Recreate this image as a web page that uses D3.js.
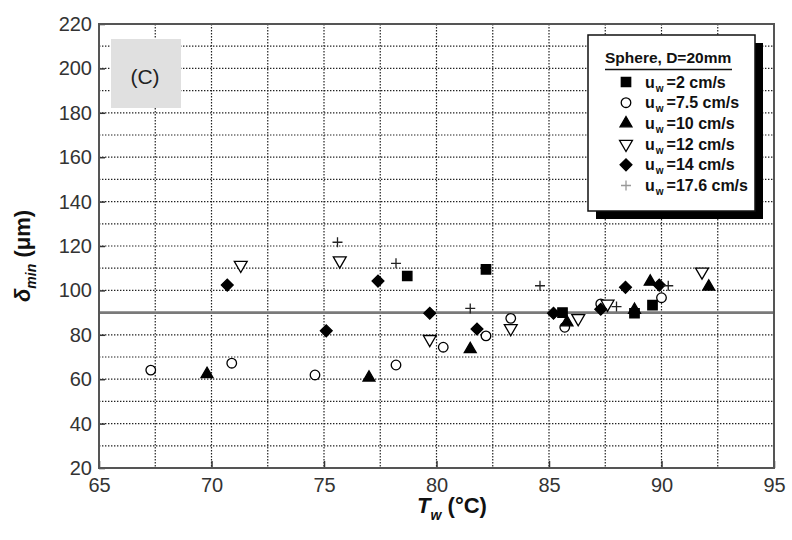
<!DOCTYPE html>
<html>
<head>
<meta charset="utf-8">
<script src="https://cdn.jsdelivr.net/npm/d3@7"></script>
<style>
  body { margin: 0; background: #fff; }
  text { font-family: "Liberation Sans", Arial, sans-serif; }
</style>
</head>
<body>
<script>
// series values: [T_w, delta_min]
const u2 = [[78.7, 106.5], [82.2, 109.5], [85.6, 90], [88.8, 89.7], [89.6, 93.4]];
const u7_5 = [[67.3, 64.1], [70.9, 67.2], [74.6, 61.9], [78.2, 66.4], [80.3, 74.4],
  [82.2, 79.5], [83.3, 87.4], [85.7, 83.4], [87.3, 93.9], [90.0, 96.7]];
const u10 = [[69.8, 62.3], [77.0, 60.7], [81.5, 73.5], [85.8, 85.6], [88.8, 91.2],
  [89.5, 103.9], [92.1, 101.7]];
const u12 = [[71.3, 111.4], [75.7, 113.4], [79.7, 78], [83.3, 82.9], [86.3, 87.4],
  [87.6, 93.9], [91.8, 108.4]];
const u14 = [[70.7, 102.4], [75.1, 81.8], [77.4, 104.2], [79.7, 89.7], [81.8, 82.6],
  [85.2, 89.7], [87.3, 91.5], [88.4, 101.4], [89.9, 102.4]];
const u17_6 = [[75.6, 121.7], [78.2, 112.2], [81.5, 91.9], [84.6, 102.1], [88.0, 92.7],
  [90.3, 102.1]];

const seriesNames = ["=2 cm/s", "=7.5 cm/s", "=10 cm/s", "=12 cm/s", "=14 cm/s", "=17.6 cm/s"];
const xTicks = [65, 70, 75, 80, 85, 90, 95];
const yTicks = [20, 40, 60, 80, 100, 120, 140, 160, 180, 200, 220];
const refLine = 90;

const width = 792, height = 540;
const margin = { top: 24, right: 18, bottom: 72, left: 99 };

const svg = d3.select("body").append("svg").attr("width", width).attr("height", height);

const x = d3.scaleLinear().domain([65, 95]).range([margin.left, width - margin.right]);
const y = d3.scaleLinear().domain([20, 220]).range([height - margin.bottom, margin.top]);

// grid, dotted
const gridX = d3.range(65, 95.01, 2.5);
const gridY = d3.range(20, 220.01, 10);
svg.append("g").selectAll("line").data(gridX.slice(1, -1)).enter().append("line")
  .attr("x1", d => x(d)).attr("x2", d => x(d))
  .attr("y1", y(220)).attr("y2", y(20))
  .attr("stroke", "#222").attr("stroke-width", 1.2).attr("stroke-dasharray", "1.4,1.6");
svg.append("g").selectAll("line").data(gridY.slice(1, -1)).enter().append("line")
  .attr("x1", x(65)).attr("x2", x(95))
  .attr("y1", d => y(d)).attr("y2", d => y(d))
  .attr("stroke", "#222").attr("stroke-width", 1.2).attr("stroke-dasharray", "1.4,1.6");

// (C) panel label
svg.append("rect").attr("x", 111).attr("y", 39).attr("width", 70).attr("height", 69)
  .attr("fill", "#e0e0e0");
svg.append("text").attr("x", 145).attr("y", 84).attr("text-anchor", "middle")
  .attr("font-size", 21).attr("fill", "#222").text("(C)");

// reference line
svg.append("line").attr("x1", x(65)).attr("x2", x(95))
  .attr("y1", y(refLine)).attr("y2", y(refLine))
  .attr("stroke", "#7a7a7a").attr("stroke-width", 2.6);

// axes with inward ticks
const axB = svg.append("g").attr("transform", "translate(0," + y(20) + ")")
  .call(d3.axisBottom(x).tickValues(xTicks).tickSize(-7).tickPadding(12).tickFormat(d3.format("d")));
const axL = svg.append("g").attr("transform", "translate(" + x(65) + ",0)")
  .call(d3.axisLeft(y).tickValues(yTicks).tickSize(-6).tickPadding(7).tickFormat(d3.format("d")));
[axB, axL].forEach(a => {
  a.select(".domain").remove();
  a.selectAll(".tick line").attr("stroke", "#333").attr("stroke-width", 1.5);
  a.selectAll(".tick text").attr("font-size", 20).attr("fill", "#333")
    .attr("font-family", "Liberation Sans, Arial, sans-serif");
});
axB.selectAll(".tick text").attr("dy", "0.6em");

// frame
svg.append("rect").attr("x", x(65)).attr("y", y(220))
  .attr("width", x(95) - x(65)).attr("height", y(20) - y(220))
  .attr("fill", "none").attr("stroke", "#555").attr("stroke-width", 2);

// marker shapes
const plus = { draw(ctx, size) { const r = Math.sqrt(size) / 2; ctx.moveTo(-r, 0); ctx.lineTo(r, 0); ctx.moveTo(0, -r); ctx.lineTo(0, r); } };
const styles = [
  { data: u2, type: d3.symbolSquare, size: 88, fill: "#000", stroke: "#000", rot: 0 },
  { data: u7_5, type: d3.symbolCircle, size: 72, fill: "#fff", stroke: "#000", rot: 0 },
  { data: u10, type: d3.symbolTriangle, size: 62, fill: "#000", stroke: "#000", rot: 0 },
  { data: u12, type: d3.symbolTriangle, size: 72, fill: "#fff", stroke: "#000", rot: 180 },
  { data: u14, type: d3.symbolSquare, size: 70, fill: "#000", stroke: "#000", rot: 45 },
  { data: u17_6, type: plus, size: 100, fill: "none", stroke: "#222", rot: 0 }
];

styles.forEach(s => {
  svg.append("g").selectAll("path").data(s.data).enter().append("path")
    .attr("d", d3.symbol().type(s.type).size(s.size))
    .attr("transform", d => "translate(" + x(d[0]) + "," + y(d[1]) + ") rotate(" + s.rot + ")")
    .attr("fill", s.fill).attr("stroke", s.stroke).attr("stroke-width", 1.3);
});

// legend
const lg = svg.append("g");
lg.append("rect").attr("x", 596).attr("y", 43).attr("width", 167).attr("height", 176).attr("fill", "#000");
lg.append("rect").attr("x", 588).attr("y", 35).attr("width", 167).attr("height", 176)
  .attr("fill", "#fff").attr("stroke", "#111").attr("stroke-width", 1.5);
lg.append("text").attr("x", 605).attr("y", 63).attr("font-size", 15.5).attr("font-weight", "bold")
  .attr("fill", "#111").text("Sphere, D=20mm");
lg.append("line").attr("x1", 605).attr("x2", 732).attr("y1", 69.5).attr("y2", 69.5)
  .attr("stroke", "#111").attr("stroke-width", 1.5);

const legendRows = lg.selectAll(".row").data(styles).enter().append("g")
  .attr("class", "row")
  .attr("transform", (d, i) => "translate(0," + (82 + i * 20.7) + ")");
legendRows.append("path")
  .attr("d", d => d3.symbol().type(d.type).size(d.size)())
  .attr("transform", d => "translate(626,0) rotate(" + d.rot + ")")
  .attr("fill", d => d.fill)
  .attr("stroke", (d, i) => i === 5 ? "#999" : d.stroke).attr("stroke-width", 1.3);
const lt = legendRows.append("text").attr("x", 645).attr("y", 5.5)
  .attr("font-size", 16).attr("font-weight", "bold").attr("fill", "#111");
lt.append("tspan").text("u");
lt.append("tspan").attr("font-size", 10).attr("dy", 4).attr("dx", 1).text("w");
lt.append("tspan").attr("dy", -4).attr("dx", 3).text((d, i) => seriesNames[i]);

// axis titles
const xt = svg.append("text").attr("x", 452).attr("y", 513).attr("text-anchor", "middle")
  .attr("font-size", 22).attr("font-weight", "bold").attr("fill", "#111");
xt.append("tspan").attr("font-style", "italic").text("T");
xt.append("tspan").attr("font-style", "italic").attr("font-size", 14).attr("dy", 7).text("w");
xt.append("tspan").attr("dy", -7).text(" (°C)");

const yt = svg.append("text").attr("transform", "translate(30,256) rotate(-90)")
  .attr("text-anchor", "middle").attr("font-size", 22).attr("font-weight", "bold").attr("fill", "#111");
yt.append("tspan").attr("font-style", "italic").text("δ");
yt.append("tspan").attr("font-style", "italic").attr("font-size", 14).attr("dy", 6).text("min");
yt.append("tspan").attr("dy", -6).text(" (μm)");
</script>
</body>
</html>
